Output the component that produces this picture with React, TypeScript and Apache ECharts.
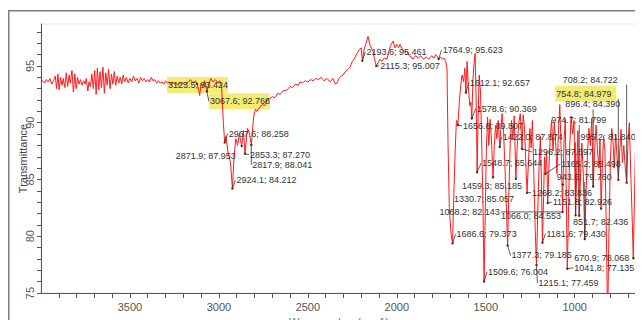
import React, { useEffect, useRef } from "react";
import * as echarts from "echarts";

// FTIR spectrum: [wavenumber (cm-1), transmittance (%)]
const spectrum: [number, number][] = [
  [4000, 93.6], [3990, 93.7], [3980, 93.5], [3970, 93.8], [3960, 93.6], [3950, 93.9], [3940, 93.4], [3930, 93.7],
  [3920, 94.1], [3912, 93.0], [3905, 94.3], [3898, 92.9], [3890, 94.0], [3882, 93.3], [3875, 93.9], [3866, 93.1],
  [3858, 94.4], [3850, 93.2], [3842, 94.2], [3835, 93.5], [3826, 94.6], [3818, 92.7], [3810, 94.3], [3802, 93.0],
  [3795, 94.0], [3786, 93.4], [3778, 93.8], [3770, 93.3], [3760, 93.7], [3752, 93.4], [3745, 93.9], [3737, 92.8],
  [3730, 93.6], [3722, 93.2], [3714, 94.3], [3706, 93.0], [3698, 94.6], [3690, 92.5], [3683, 94.8], [3675, 92.9],
  [3668, 94.5], [3660, 93.1], [3652, 94.9], [3644, 92.6], [3636, 94.4], [3628, 93.3], [3620, 94.7], [3612, 93.0],
  [3604, 94.3], [3596, 93.4], [3588, 94.5], [3580, 93.3], [3572, 94.1], [3563, 93.5], [3555, 94.0], [3546, 93.4],
  [3538, 94.2], [3530, 93.6], [3520, 94.0], [3510, 93.5], [3500, 93.9], [3490, 93.6], [3480, 94.1], [3470, 93.7],
  [3460, 93.9], [3450, 93.5], [3440, 94.0], [3430, 93.7], [3420, 93.9], [3410, 93.6], [3400, 93.8], [3390, 93.6],
  [3380, 94.0], [3370, 93.7], [3360, 93.8], [3350, 93.5], [3340, 93.7], [3330, 93.5], [3320, 93.6], [3310, 93.4],
  [3300, 93.7], [3290, 93.5], [3280, 93.6], [3270, 93.3], [3260, 93.6], [3250, 93.4], [3240, 93.5], [3230, 93.3],
  [3220, 93.6], [3210, 93.4], [3200, 93.5], [3190, 93.3], [3180, 93.5], [3170, 93.6], [3160, 93.8], [3150, 93.6],
  [3140, 93.5], [3132, 93.7], [3123.5, 93.424], [3115, 93.0], [3108, 92.4], [3100, 93.5], [3090, 93.2], [3080, 93.7],
  [3067.6, 92.766], [3055, 93.5], [3045, 93.9], [3035, 93.6], [3020, 93.8], [3005, 93.5], [2995, 93.7], [2985, 93.2],
  [2975, 90.0], [2967.6, 88.258], [2960, 88.8], [2950, 87.5], [2935, 86.5], [2924.1, 84.212], [2915, 87.0], [2905, 88.6],
  [2895, 88.0], [2885, 89.0], [2871.9, 87.953], [2862, 89.3], [2853.3, 87.27], [2840, 89.5], [2830, 89.2], [2817.9, 88.041],
  [2805, 90.5], [2795, 91.2], [2785, 91.0], [2770, 91.4], [2755, 91.6], [2742, 91.5], [2730, 92.0], [2715, 92.1],
  [2700, 92.3], [2685, 92.2], [2670, 92.6], [2655, 92.5], [2640, 92.8], [2617, 92.9], [2600, 93.2], [2585, 93.1],
  [2570, 93.4], [2555, 93.3], [2544, 93.6], [2530, 93.5], [2515, 93.7], [2500, 93.6], [2485, 93.8], [2470, 93.7],
  [2455, 93.9], [2440, 93.8], [2425, 94.0], [2410, 93.7], [2392, 93.9], [2375, 93.6], [2360, 93.9], [2345, 93.4],
  [2336, 93.5], [2325, 93.9], [2314, 94.1], [2302, 94.2], [2290, 94.5], [2275, 94.7], [2263, 94.9], [2250, 95.4],
  [2237, 95.7], [2224, 96.1], [2212, 96.4], [2200, 96.6], [2193.6, 95.461], [2185, 96.4], [2175, 96.9], [2162, 97.6],
  [2150, 96.8], [2140, 96.5], [2134, 96.3], [2125, 95.6], [2115.3, 95.007], [2105, 95.3], [2095, 95.6], [2085, 95.4],
  [2070, 95.7], [2055, 95.6], [2045, 96.3], [2035, 96.8], [2021, 97.2], [2010, 96.6], [2000, 96.9], [1990, 96.6],
  [1982, 96.9], [1970, 96.5], [1955, 96.2], [1943, 96.3], [1930, 95.9], [1920, 95.8], [1909, 95.6], [1895, 95.9],
  [1880, 95.7], [1865, 95.9], [1850, 95.6], [1835, 95.8], [1820, 95.6], [1805, 95.9], [1790, 95.7], [1780, 96.0],
  [1775, 95.9], [1764.9, 95.623], [1755, 95.8], [1745, 95.6], [1735, 95.7], [1725, 95.4], [1718, 94.8], [1712, 88.0],
  [1705, 82.5], [1695, 80.2], [1686.6, 79.373], [1680, 83.5], [1672, 87.5], [1665, 90.2], [1656.8, 89.807], [1648, 92.0],
  [1640, 93.4], [1633, 94.2], [1625, 93.6], [1618, 94.8], [1612.1, 92.657], [1605, 95.4], [1598, 93.2], [1590, 91.5],
  [1584, 91.8], [1578.6, 90.369], [1572, 93.8], [1566, 95.2], [1560, 96.1], [1554, 92.0], [1548.7, 85.644], [1543, 90.5],
  [1537, 94.2], [1530, 92.8], [1524, 89.0], [1516, 83.0], [1509.6, 76.004], [1503, 82.0], [1497, 87.5], [1490, 90.5],
  [1483, 88.0], [1476, 90.3], [1468, 88.5], [1459.3, 85.185], [1452, 88.0], [1445, 89.8], [1438, 88.6], [1430, 90.2],
  [1422, 87.874], [1415, 89.5], [1408, 90.8], [1400, 89.2], [1392, 86.0], [1384, 82.5], [1377.3, 79.185], [1370, 84.0],
  [1362, 88.5], [1355, 90.2], [1348, 88.5], [1340, 90.6], [1330.7, 85.057], [1322, 88.4], [1314, 90.0], [1306, 90.8],
  [1296.2, 87.697], [1290, 90.7], [1282, 89.5], [1275, 86.5], [1268.2, 83.836], [1260, 86.5], [1252, 89.5], [1245, 87.8],
  [1238, 90.2], [1230, 85.5], [1222, 80.5], [1215.1, 77.459], [1208, 82.0], [1200, 86.5], [1193, 88.8], [1187, 84.5],
  [1181.6, 79.43], [1175, 83.5], [1170, 87.0], [1165.2, 85.498], [1158, 87.5], [1151.8, 82.926], [1145, 86.0], [1138, 88.6],
  [1130, 90.2], [1122, 87.5], [1115, 90.0], [1108, 88.6], [1100, 85.5], [1092, 89.0], [1084, 91.6], [1077, 88.0],
  [1068.2, 82.143], [1066, 84.553], [1060, 88.5], [1053, 90.3], [1047, 83.0], [1041.8, 77.135], [1035, 82.0], [1028, 88.0],
  [1020, 90.6], [1012, 89.0], [1004, 90.2], [995.2, 81.84], [988, 86.0], [982, 89.3], [974.7, 81.799], [967, 85.5],
  [960, 88.2], [952, 85.5], [943.6, 79.76], [936, 84.0], [928, 87.5], [920, 89.5], [912, 88.0], [904, 90.4],
  [896.4, 84.39], [888, 87.5], [880, 89.8], [872, 87.5], [864, 86.0], [858, 88.5], [851.7, 82.436], [845, 86.0],
  [838, 88.8], [830, 87.5], [823, 81.0], [815, 72.5], [808, 80.0], [800, 86.5], [792, 89.5], [785, 88.5],
  [778, 86.0], [770, 89.0], [762, 87.0], [754.8, 84.979], [747, 87.5], [740, 89.4], [732, 86.5], [724, 88.0],
  [716, 86.0], [708.2, 84.722], [700, 88.5], [693, 90.0], [686, 86.0], [678, 82.0], [670.9, 78.068], [664, 83.5],
  [657, 89.0], [650, 88.0],
];

// Annotated peaks
const peakWn = [
  3123.5, 3067.6, 2967.6, 2871.9, 2853.3, 2817.9, 2924.1, 2193.6, 2115.3, 1764.9,
  1612.1, 1578.6, 1656.8, 1548.7, 1509.6, 1459.3, 1330.7, 1068.2, 1066.0, 1686.6,
  1422.0, 1377.3, 1296.2, 1268.2, 1215.1, 1181.6, 1165.2, 1151.8, 943.6, 1041.8,
  974.7, 995.2, 896.4, 851.7, 754.8, 708.2, 670.9,
];
const peakT = [
  93.424, 92.766, 88.258, 87.953, 87.27, 88.041, 84.212, 95.461, 95.007, 95.623,
  92.657, 90.369, 89.807, 85.644, 76.004, 85.185, 85.057, 82.143, 84.553, 79.373,
  87.874, 79.185, 87.697, 83.836, 77.459, 79.43, 85.498, 82.926, 79.76, 77.135,
  81.799, 81.84, 84.39, 82.436, 84.979, 84.722, 78.068,
];
const highlightedPeaks = [3123.5, 3067.6, 754.8];

// Axis ticks
const yLabelValues = [75, 80, 85, 90, 95];
const yTickValues = [75, 76, 77, 78, 79, 80, 81, 82, 83, 84, 85, 86, 87, 88, 89, 90, 91, 92, 93, 94, 95, 96, 97, 98];
const xLabelValues = [1000, 1500, 2000, 2500, 3000, 3500];
const xTickValues = [
  700, 800, 900, 1000, 1100, 1200, 1300, 1400, 1500, 1600, 1700, 1800, 1900, 2000, 2100, 2200, 2300,
  2400, 2500, 2600, 2700, 2800, 2900, 3000, 3100, 3200, 3300, 3400, 3500, 3600, 3700, 3800, 3900,
];

// Label placement (pixel offsets from peak) and leader mode: 0 none, 1 to label start, 2 vertical, 3 to label end
const labelLayout: [number, number, number][] = [
  [-29, 1, 0], [3, 10, 1], [4, -9, 1], [-66, 10, 0], [5, 1, 1], [1, 20, 1], [4, -8, 1], [4, -9, 1], [4, 0, 1], [4, -9, 1],
  [4, -10, 1], [5, -10, 1], [5, 1, 1], [5, -9, 1], [4, -10, 1], [-31, 9, 0], [-62, 20, 0], [-123, 0, 3], [-62, 31, 0], [4, -9, 1],
  [3, -10, 1], [4, 10, 1], [11, 3, 1], [5, 0, 1], [2, 18, 1], [4, -9, 1], [16, -10, 1], [5, -1, 1], [-28, -62, 2], [7, -1, 1],
  [-28, -96, 2], [5, -78, 2], [-28, -82, 2], [-28, 13, 0], [-62, -86, 2], [-64, -103, 2], [-59, 0, 3],
];
const LABEL_W = 61;
const FONT = '"Liberation Sans", Arial, sans-serif';

const labelText = (i: number) => `${peakWn[i].toFixed(1)}; ${peakT[i].toFixed(3)}`;

export default function App() {
  const ref = useRef<HTMLDivElement>(null);
  useEffect(() => {
    if (!ref.current) return;
    const chart = echarts.init(ref.current, null, { renderer: "svg" });
    const peakData = peakWn.map((w, i) => [w, peakT[i], i]);
    const hlData = peakData.filter((d) => highlightedPeaks.includes(d[0] as number));

    const option: any = {
      animation: false,
      grid: {
        left: 33,
        right: 6,
        top: 16,
        bottom: 27,
        show: true,
        borderColor: "#e4e4e4",
        borderWidth: 1,
        containLabel: false,
        outerBoundsMode: "none",
      },
      graphic: [
        {
          type: "rect",
          silent: true,
          shape: { x: 0.75, y: 2.75, width: 700, height: 400 },
          style: { fill: "none", stroke: "#7d7d7d", lineWidth: 1.5 },
          z: 100,
        },
      ],
      xAxis: {
        type: "value",
        inverse: true,
        min: 650,
        max: 4000,
        name: "Wavenumber (cm-1)",
        nameLocation: "middle",
        nameGap: 23,
        nameMoveOverlap: false,
        nameTextStyle: { fontSize: 11, color: "#777", fontFamily: FONT },
        axisLine: { show: true, onZero: false, lineStyle: { color: "#555", width: 1 } },
        axisTick: { show: true, length: 5, customValues: xTickValues, lineStyle: { color: "#555" } },
        axisLabel: {
          customValues: xLabelValues,
          formatter: (v: number) => String(v),
          fontSize: 11,
          color: "#555",
          margin: 8,
          fontFamily: FONT,
        },
        splitLine: { show: false },
      },
      yAxis: [
        {
          type: "value",
          min: 75,
          max: 98.7,
          name: "Transmittance",
          nameLocation: "middle",
          nameGap: 13,
          nameMoveOverlap: false,
          nameTextStyle: { fontSize: 11, color: "#444", fontFamily: FONT },
          axisLine: { show: true, lineStyle: { color: "#555", width: 1 } },
          axisTick: { show: true, length: 4, customValues: yTickValues, lineStyle: { color: "#555" } },
          axisLabel: {
            customValues: yLabelValues,
            rotate: 90,
            align: "center",
            verticalAlign: "middle",
            fontSize: 11,
            color: "#555",
            margin: 11,
            fontFamily: FONT,
          },
          splitLine: { show: false },
        },
        {
          type: "value",
          position: "right",
          min: 75,
          max: 98.7,
          axisLine: { show: true, lineStyle: { color: "#555", width: 1 } },
          axisTick: { show: false },
          axisLabel: { show: false },
          splitLine: { show: false },
        },
      ],
      series: [
        {
          type: "custom",
          z: 1,
          data: hlData,
          encode: { x: 0, y: 1 },
          renderItem: (params: any, api: any) => {
            const idx = api.value(2);
            const p = api.coord([api.value(0), api.value(1)]);
            const [dx, dy] = labelLayout[idx];
            const lx = p[0] + dx;
            const ly = p[1] + dy;
            return {
              type: "rect",
              shape: { x: lx - 1, y: ly - 8, width: LABEL_W, height: 16 },
              style: { fill: "#f2ec74" },
            };
          },
        },
        {
          type: "line",
          z: 2,
          data: spectrum,
          showSymbol: false,
          symbol: "none",
          lineStyle: { color: "#ff1a1a", width: 1 },
          clip: true,
        },
        {
          type: "custom",
          z: 3,
          data: peakData,
          encode: { x: 0, y: 1 },
          renderItem: (params: any, api: any) => {
            const idx = api.value(2);
            const p = api.coord([api.value(0), api.value(1)]);
            const [dx, dy, mode] = labelLayout[idx];
            const lx = p[0] + dx;
            const ly = p[1] + dy;
            const children: any[] = [];
            let end: number[] | null = null;
            if (mode === 1) end = [lx - 1, ly];
            else if (mode === 2) end = [p[0], ly + 5];
            else if (mode === 3) end = [lx + LABEL_W, ly];
            if (end) {
              children.push({
                type: "line",
                shape: { x1: p[0], y1: p[1], x2: end[0], y2: end[1] },
                style: { stroke: "#333", lineWidth: 0.8 },
              });
            }
            children.push({ type: "circle", shape: { cx: p[0], cy: p[1], r: 1.2 }, style: { fill: "#333" } });
            children.push({
              type: "text",
              x: lx,
              y: ly,
              style: {
                text: labelText(idx),
                fill: "#333",
                font: `9px ${FONT}`,
                verticalAlign: "middle",
                align: "left",
              },
            });
            return { type: "group", children };
          },
        },
      ],
    };
    chart.setOption(option);
    return () => chart.dispose();
  }, []);
  return <div ref={ref} style={{ width: 635, height: 312 }} />;
}
